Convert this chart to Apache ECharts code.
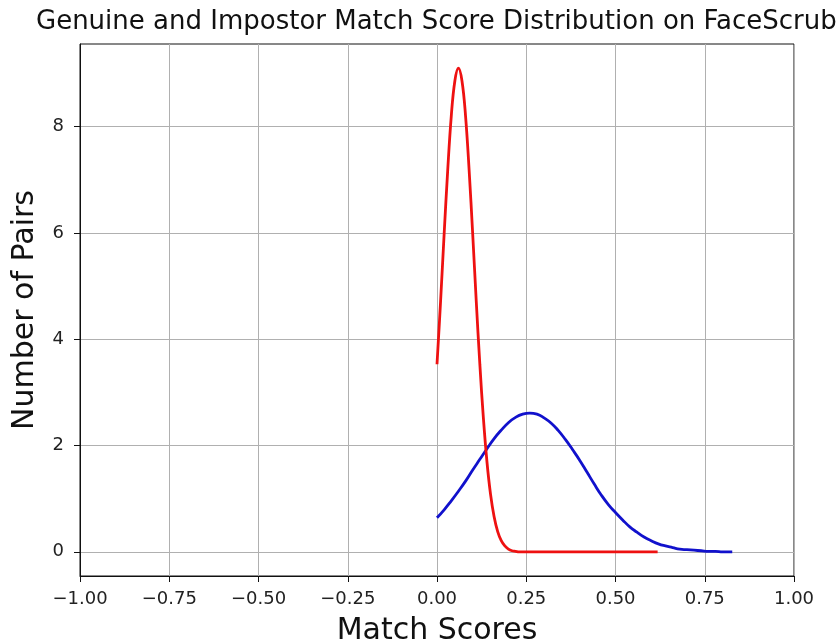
<!DOCTYPE html>
<html>
<head>
<meta charset="utf-8">
<script src="https://cdn.jsdelivr.net/npm/echarts@6/dist/echarts.min.js"></script>
<style>
html,body{margin:0;padding:0;background:#fff;}
#chart{width:839px;height:643px;}
</style>
</head>
<body>
<div id="chart"></div>
<script>
const titleText = 'Genuine and Impostor Match Score Distribution on FaceScrub';
const xAxisLabel = 'Match Scores';
const yAxisLabel = 'Number of Pairs';
const xTicks = [-1.00, -0.75, -0.50, -0.25, 0.00, 0.25, 0.50, 0.75, 1.00];
const yTicks = [0, 2, 4, 6, 8];

// Impostor (red) curve
const impostorX = [0.00,0.01,0.02,0.03,0.04,0.05,0.06,0.07,0.08,0.09,0.10,0.11,0.12,0.13,0.14,0.15,0.16,0.17,0.18,0.19,0.20,0.21,0.22,0.23,0.26,0.30,0.40,0.50,0.60,0.618];
const impostorY = [3.53,4.71,5.98,7.18,8.20,8.86,9.10,8.86,8.20,7.18,5.98,4.71,3.53,2.51,1.69,1.08,0.66,0.38,0.21,0.11,0.05,0.02,0.01,0.00,0.00,0.00,0.00,0.00,0.00,0.00];

// Genuine (blue) curve
const genuineX = [0.00,0.02,0.04,0.06,0.08,0.10,0.12,0.14,0.16,0.18,0.20,0.22,0.24,0.26,0.28,0.30,0.32,0.34,0.36,0.38,0.40,0.42,0.44,0.46,0.48,0.50,0.52,0.54,0.56,0.58,0.60,0.62,0.64,0.66,0.68,0.70,0.72,0.74,0.76,0.78,0.80,0.827];
const genuineY = [0.64,0.79,0.96,1.14,1.33,1.54,1.74,1.94,2.13,2.29,2.43,2.53,2.59,2.61,2.59,2.52,2.42,2.28,2.11,1.92,1.72,1.50,1.28,1.07,0.89,0.74,0.60,0.47,0.37,0.28,0.21,0.15,0.11,0.08,0.05,0.04,0.03,0.02,0.01,0.01,0.00,0.00];

const zip = (xs, ys) => xs.map((x, i) => [x, ys[i]]);
const fmtTick = v => (v < 0 ? '\u2212' : '') + Math.abs(v).toFixed(2);

const FONT = 'DejaVu Sans';
const chart = echarts.init(document.getElementById('chart'), null, {renderer: 'canvas'});
chart.setOption({
  animation: false,
  backgroundColor: '#ffffff',
  title: {
    text: titleText,
    left: 31,
    top: 4,
    textStyle: {fontFamily: FONT, fontSize: 26, fontWeight: 'normal', color: '#111'}
  },
  grid: {
    left: 80, right: 45, top: 44, bottom: 67,
    show: true, borderColor: '#111', borderWidth: 1, backgroundColor: 'transparent',
    containLabel: false,
    outerBoundsMode: 'none'
  },
  xAxis: {
    type: 'value',
    min: -1, max: 1, interval: 0.25,
    name: xAxisLabel,
    nameLocation: 'middle',
    nameGap: 40,
    nameTextStyle: {fontFamily: FONT, fontSize: 30, color: '#111'},
    axisLine: {show: true, onZero: false, lineStyle: {color: '#111', width: 1}},
    axisTick: {show: true, length: 6, lineStyle: {color: '#111', width: 1}},
    axisLabel: {
      margin: 14, fontFamily: FONT, fontSize: 18, color: '#222',
      formatter: v => fmtTick(v), showMinLabel: true, showMaxLabel: true
    },
    splitLine: {show: true, lineStyle: {color: '#b0b0b0', width: 1}}
  },
  yAxis: {
    type: 'value',
    min: -0.455, max: 9.555,
    name: yAxisLabel,
    nameLocation: 'middle',
    nameGap: 40,
    nameTextStyle: {fontFamily: FONT, fontSize: 30, color: '#111'},
    axisLine: {show: true, onZero: false, lineStyle: {color: '#111', width: 1}},
    axisTick: {show: true, length: 6, customValues: yTicks, lineStyle: {color: '#111', width: 1}},
    axisLabel: {
      margin: 16, fontFamily: FONT, fontSize: 18, color: '#222',
      customValues: yTicks, formatter: v => String(v)
    },
    splitLine: {show: true, lineStyle: {color: '#b0b0b0', width: 1}}
  },
  series: [
    {
      name: 'Impostor',
      type: 'line',
      data: zip(impostorX, impostorY),
      showSymbol: false,
      smooth: 0.4,
      lineStyle: {color: '#ee1111', width: 2.8},
      itemStyle: {color: '#ee1111'},
      z: 3
    },
    {
      name: 'Genuine',
      type: 'line',
      data: zip(genuineX, genuineY),
      showSymbol: false,
      smooth: 0.5,
      lineStyle: {color: '#1111cc', width: 2.8},
      itemStyle: {color: '#1111cc'},
      z: 2
    }
  ]
});
</script>
</body>
</html>
